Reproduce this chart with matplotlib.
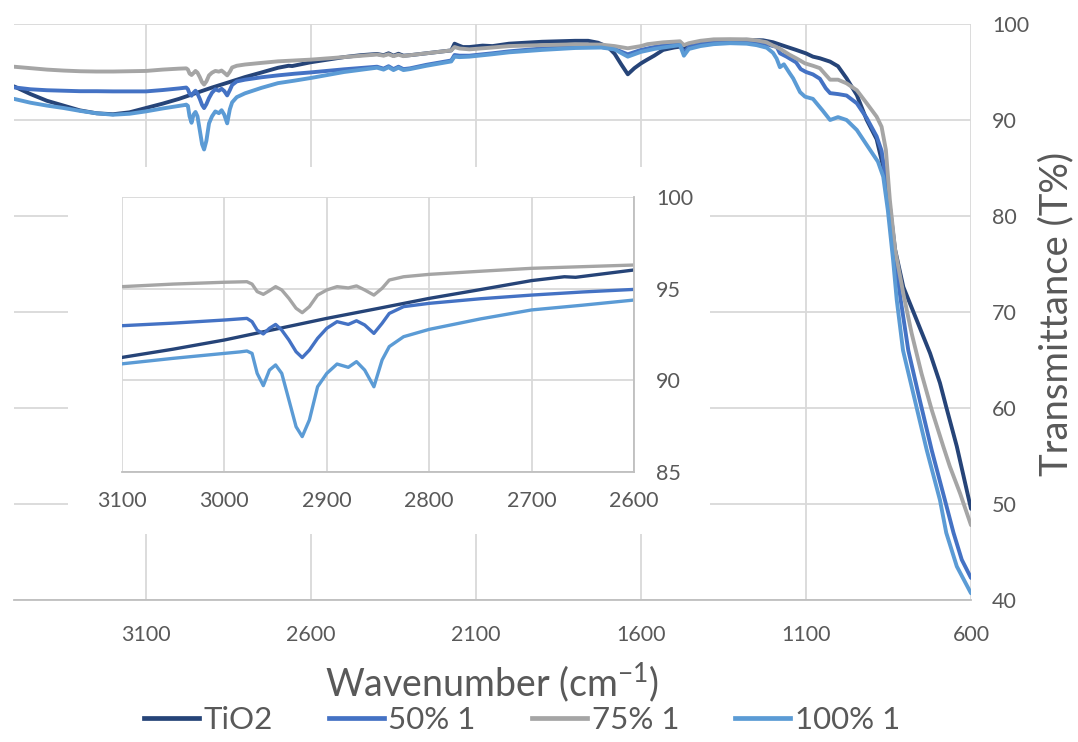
import matplotlib
matplotlib.use("Agg")
import matplotlib.pyplot as plt
from matplotlib.patches import Rectangle
from matplotlib.lines import Line2D

plt.rcParams['font.family'] = ['Lato', 'DejaVu Sans']
plt.rcParams['mathtext.fontset'] = 'custom'
plt.rcParams['mathtext.rm'] = 'Lato'

# ---- FTIR spectra: wavenumber (cm-1) and transmittance (%) ----
labels = ["TiO2", "50% 1", "75% 1", "100% 1"]
colors = ["#264478", "#4472C4", "#A5A5A5", "#5B9BD5"]

wn_tio2 = [3500, 3450, 3400, 3350, 3300, 3250, 3200, 3150, 3100, 3050, 3000, 2950, 2900, 2850,
           2800, 2750, 2700, 2668, 2657, 2600, 2500, 2450, 2400, 2380, 2365, 2350, 2335, 2320,
           2300, 2250, 2200, 2175, 2165, 2155, 2140, 2120, 2080, 2050, 2000, 1950, 1900, 1850,
           1800, 1760, 1730, 1700, 1680, 1660, 1640, 1620, 1600, 1583, 1560, 1533, 1500, 1482,
           1470, 1455, 1420, 1380, 1330, 1280, 1230, 1200, 1160, 1130, 1100, 1079, 1058, 1027,
           1003, 977, 946, 916, 886, 866, 846, 830, 805, 765, 724, 694, 675, 643, 600]
t_tio2 = [93.5, 92.7, 92.0, 91.5, 91.0, 90.7, 90.6, 90.8, 91.25, 91.7, 92.2, 92.79, 93.38, 93.92,
          94.47, 94.95, 95.44, 95.65, 95.62, 96.02, 96.55, 96.75, 96.88, 96.75, 96.95, 96.7, 96.9, 96.7,
          96.75, 96.95, 97.15, 97.25, 97.95, 97.8, 97.6, 97.6, 97.75, 97.7, 97.95, 98.05, 98.15, 98.2,
          98.25, 98.25, 98.05, 97.6, 96.9, 95.8, 94.76, 95.4, 95.9, 96.25, 96.7, 97.3, 97.55, 97.64,
          97.3, 97.8, 98.0, 98.2, 98.3, 98.35, 98.3, 98.1, 97.64, 97.3, 96.94, 96.6, 96.43, 96.08,
          95.6, 94.34, 92.6, 90.0, 88.0, 85.1, 81.0, 76.5, 72.6, 69.2, 65.7, 62.6, 60.1, 56.0, 49.5]

wn_50 = [3500, 3450, 3400, 3350, 3300, 3250, 3200, 3150, 3100, 3050, 3000, 2978, 2973, 2968,
         2962, 2956, 2950, 2944, 2937, 2930, 2924, 2917, 2909, 2900, 2890, 2879, 2871, 2863,
         2854, 2846, 2839, 2825, 2800, 2750, 2700, 2650, 2600, 2500, 2400, 2380, 2365, 2350,
         2335, 2320, 2300, 2250, 2200, 2175, 2165, 2150, 2120, 2050, 2000, 1900, 1800, 1720,
         1680, 1640, 1600, 1560, 1533, 1482, 1470, 1455, 1420, 1380, 1330, 1280, 1250, 1220,
         1200, 1189, 1179, 1159, 1130, 1116, 1100, 1079, 1058, 1040, 1027, 1003, 977, 946,
         916, 886, 871, 856, 840, 813, 790, 755, 719, 679, 653, 628, 600]
t_50 = [93.4, 93.2, 93.1, 93.05, 93.0, 93.0, 92.98, 92.98, 92.98, 93.12, 93.29, 93.38, 93.2, 92.74,
        92.53, 92.84, 93.05, 92.74, 92.2, 91.56, 91.24, 91.65, 92.29, 92.84, 93.2, 93.05, 93.25, 93.02,
        92.56, 93.11, 93.65, 94.02, 94.2, 94.45, 94.65, 94.82, 94.96, 95.28, 95.55, 95.35, 95.6, 95.3,
        95.55, 95.3, 95.38, 95.75, 96.05, 96.2, 96.77, 96.7, 96.7, 96.95, 97.15, 97.45, 97.64, 97.6,
        97.4, 96.84, 97.3, 97.6, 97.75, 97.9, 97.0, 97.6, 97.9, 98.07, 98.16, 98.2, 98.1, 97.9,
        97.7, 97.64, 96.95, 96.6, 96.0, 95.3, 95.0, 94.75, 94.3, 93.3, 92.8, 92.7, 92.55, 91.74,
        90.2, 88.3, 86.8, 83.4, 78.2, 71.25, 66.0, 60.8, 55.6, 50.4, 47.0, 44.2, 42.3]

wn_75 = [3500, 3450, 3400, 3350, 3300, 3250, 3200, 3150, 3100, 3050, 3000, 2978, 2973, 2968,
         2962, 2956, 2950, 2944, 2937, 2930, 2924, 2917, 2909, 2900, 2890, 2879, 2871, 2863,
         2854, 2846, 2839, 2825, 2800, 2750, 2700, 2650, 2600, 2500, 2400, 2380, 2365, 2350,
         2335, 2320, 2300, 2250, 2200, 2175, 2165, 2150, 2120, 2050, 2000, 1900, 1800, 1720,
         1680, 1640, 1600, 1580, 1533, 1482, 1470, 1455, 1420, 1380, 1330, 1280, 1250, 1220,
         1200, 1180, 1150, 1128, 1103, 1079, 1058, 1040, 1027, 1003, 977, 946, 916, 886,
         871, 858, 846, 830, 805, 780, 750, 719, 684, 664, 633, 600]
t_75 = [95.55, 95.4, 95.25, 95.15, 95.08, 95.05, 95.05, 95.08, 95.11, 95.25, 95.35, 95.38, 95.25, 94.84,
        94.69, 94.89, 95.11, 94.93, 94.47, 93.93, 93.69, 94.02, 94.65, 94.93, 95.11, 95.04, 95.15, 94.93,
        94.65, 95.02, 95.47, 95.65, 95.78, 95.95, 96.11, 96.2, 96.29, 96.55, 96.82, 96.7, 96.85, 96.65,
        96.8, 96.65, 96.75, 96.95, 97.15, 97.25, 97.6, 97.45, 97.36, 97.55, 97.7, 97.8, 97.88, 97.85,
        97.7, 97.47, 97.7, 97.9, 98.09, 98.2, 97.8, 98.0, 98.25, 98.4, 98.42, 98.4, 98.3, 98.1,
        97.75, 97.45, 96.8, 96.4, 95.9, 95.65, 95.4, 94.7, 94.2, 94.2, 93.82, 93.1, 91.74, 90.35,
        89.3, 86.9, 81.7, 76.5, 71.9, 67.8, 63.6, 59.8, 56.0, 53.9, 51.1, 47.8]

wn_100 = [3500, 3450, 3400, 3350, 3300, 3250, 3200, 3150, 3100, 3050, 3000, 2985, 2978, 2973,
          2968, 2962, 2956, 2950, 2944, 2937, 2930, 2924, 2917, 2909, 2900, 2890, 2879, 2871,
          2863, 2854, 2846, 2839, 2825, 2800, 2750, 2700, 2650, 2600, 2500, 2400, 2380, 2365,
          2350, 2335, 2320, 2300, 2250, 2200, 2175, 2165, 2150, 2120, 2050, 2000, 1900, 1800,
          1720, 1680, 1640, 1600, 1560, 1533, 1482, 1470, 1455, 1420, 1380, 1330, 1280, 1250,
          1219, 1200, 1189, 1179, 1167, 1150, 1139, 1118, 1103, 1079, 1050, 1027, 1003, 977,
          946, 912, 882, 866, 852, 836, 825, 806, 770, 734, 694, 675, 643, 600]
t_100 = [92.2, 91.8, 91.5, 91.25, 90.95, 90.7, 90.55, 90.65, 90.9, 91.2, 91.47, 91.55, 91.6, 91.47,
         90.38, 89.71, 90.56, 90.84, 90.38, 88.93, 87.47, 86.93, 87.84, 89.65, 90.38, 90.89, 90.71, 91.02,
         90.56, 89.65, 91.11, 91.84, 92.38, 92.78, 93.35, 93.84, 94.1, 94.38, 95.0, 95.45, 95.25, 95.5,
         95.2, 95.45, 95.2, 95.3, 95.65, 95.95, 96.1, 96.6, 96.55, 96.6, 96.85, 97.05, 97.3, 97.5,
         97.55, 97.35, 96.6, 97.1, 97.4, 97.55, 97.8, 96.7, 97.4, 97.7, 97.9, 98.0, 97.95, 97.8,
         97.53, 97.0, 96.4, 95.5, 95.8, 94.9, 94.34, 92.9, 92.43, 92.2, 91.0, 90.0, 90.3, 90.0,
         88.96, 87.2, 85.66, 84.1, 80.6, 75.4, 71.25, 66.0, 60.8, 55.6, 50.4, 47.0, 43.5, 40.7]

series = [(wn_tio2, t_tio2), (wn_50, t_50), (wn_75, t_75), (wn_100, t_100)]

main_xticks = [3100, 2600, 2100, 1600, 1100, 600]
main_yticks = [40, 50, 60, 70, 80, 90, 100]
inset_xticks = [3100, 3000, 2900, 2800, 2700, 2600]
inset_yticks = [85, 90, 95, 100]

TEXT = "#595959"
GRID = "#d9d9d9"
AXIS = "#bfbfbf"
W, H = 1078, 742

fig = plt.figure(figsize=(W / 100, H / 100), dpi=100)


def style_axes(ax, xlim, ylim, xticks, yticks, xpad, ypad):
    ax.set_xlim(*xlim)
    ax.set_ylim(*ylim)
    ax.set_xticks(xticks)
    ax.set_yticks(yticks)
    ax.yaxis.tick_right()
    ax.tick_params(axis="both", length=0, labelsize=15.5, labelcolor=TEXT)
    ax.tick_params(axis="x", pad=xpad)
    ax.tick_params(axis="y", pad=ypad)
    ax.grid(True, color=GRID, linewidth=1.3)
    ax.set_axisbelow(True)
    for side in ("top", "left", "right"):
        ax.spines[side].set_visible(False)
    ax.spines["bottom"].set_color(AXIS)
    ax.spines["bottom"].set_linewidth(1.3)


# main spectrum panel
ax = fig.add_axes([14 / W, 1 - 600 / H, 957 / W, 576 / H])
style_axes(ax, (3500, 600), (40, 100), main_xticks, main_yticks, xpad=18, ypad=15)
for (wn, t), c in zip(series, colors):
    ax.plot(wn, t, color=c, linewidth=2.8, solid_joinstyle="round", solid_capstyle="round")

# white backdrop behind the zoomed panel
fig.patches.append(Rectangle((68 / W, 1 - 534 / H), 642 / W, 367 / H,
                             transform=fig.transFigure, facecolor="white",
                             edgecolor="none", zorder=1))

# zoomed C-H stretching region
ins = fig.add_axes([122 / W, 1 - 472 / H, 512 / W, 275 / H])
ins.set_zorder(2)
style_axes(ins, (3100, 2600), (85, 100), inset_xticks, inset_yticks, xpad=14, ypad=16)
ins.spines["right"].set_visible(True)
ins.spines["right"].set_color(AXIS)
ins.spines["right"].set_linewidth(1.3)
for (wn, t), c in zip(series, colors):
    ins.plot(wn, t, color=c, linewidth=2.4, solid_joinstyle="round", solid_capstyle="round")

# axis titles
fig.text(492 / W, 1 - 683 / H, r"Wavenumber (cm$^{\mathregular{-1}}$)", ha="center", va="center",
         fontsize=27, color=TEXT)
fig.text(1056 / W, 1 - 314 / H, "Transmittance (T%)", rotation=90, ha="center", va="center",
         fontsize=27.5, color=TEXT)

handles = [Line2D([], [], color=c, linewidth=3.4) for c in colors]
fig.legend(handles, labels, loc="center", bbox_to_anchor=(522 / W, 1 - 720 / H), ncol=4,
           frameon=False, fontsize=22.5, labelcolor=TEXT, handlelength=1.75, handletextpad=0.15,
           columnspacing=1.8, borderpad=0, borderaxespad=0)

fig.savefig("out.png", dpi=100)
